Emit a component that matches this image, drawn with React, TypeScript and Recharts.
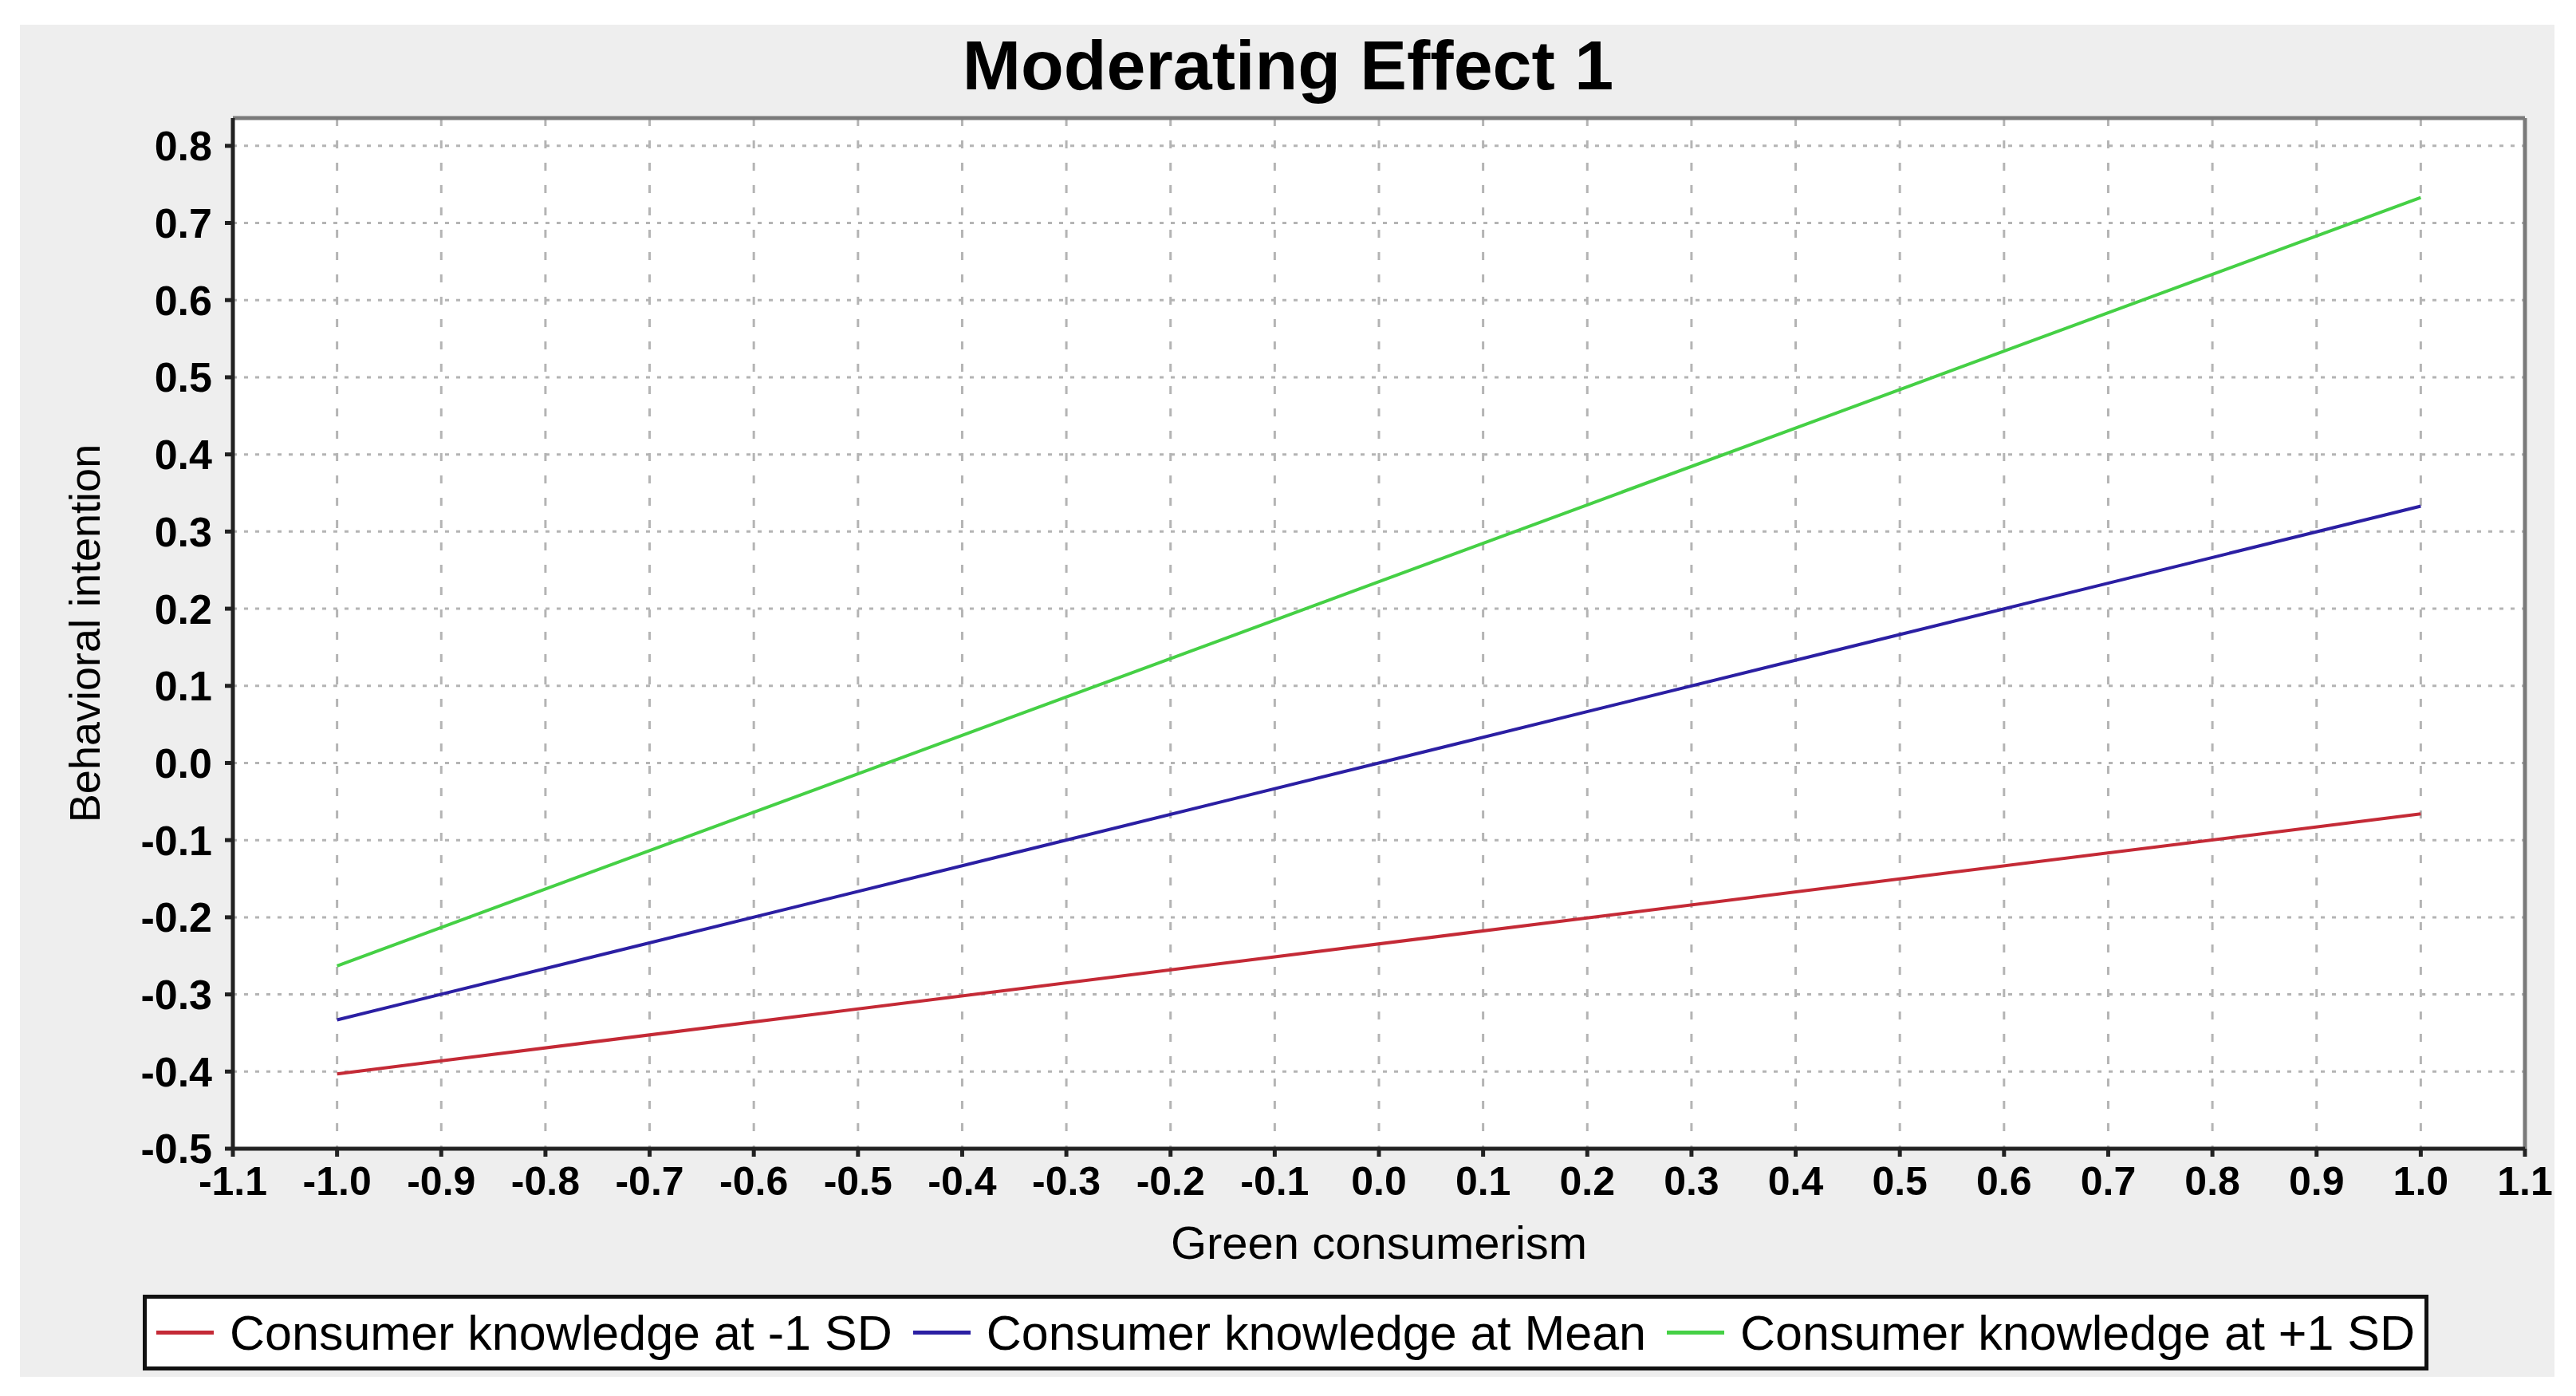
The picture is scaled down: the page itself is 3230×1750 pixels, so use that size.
import React from "react";
import { LineChart, Line, XAxis, YAxis, CartesianGrid, ReferenceLine } from "recharts";

// values
const xValues = [-1.0, 1.0];
const lowKnowledge = [-0.403, -0.066];
const meanKnowledge = [-0.333, 0.333];
const highKnowledge = [-0.263, 0.733];

const xTicks = [-1.1, -1.0, -0.9, -0.8, -0.7, -0.6, -0.5, -0.4, -0.3, -0.2, -0.1, 0.0, 0.1, 0.2, 0.3, 0.4, 0.5, 0.6, 0.7, 0.8, 0.9, 1.0, 1.1];
const yTicks = [-0.5, -0.4, -0.3, -0.2, -0.1, 0.0, 0.1, 0.2, 0.3, 0.4, 0.5, 0.6, 0.7, 0.8];

const seriesNames = [
  "Consumer knowledge at -1 SD",
  "Consumer knowledge at Mean",
  "Consumer knowledge at +1 SD",
];
const seriesKeys = ["low", "mean", "high"];
const seriesColors = ["#c42a36", "#2b1fa3", "#45d045"];

const data = xValues.map((x, i) => ({
  x,
  low: lowKnowledge[i],
  mean: meanKnowledge[i],
  high: highKnowledge[i],
}));

const FONT = "'Liberation Sans', Arial, Helvetica, sans-serif";
const Y_MAX = 0.836;

const fmt = (v: number) => (Math.abs(v) < 1e-9 ? "0.0" : v.toFixed(1));

export default function App() {
  return (
    <div
      style={{
        position: "absolute",
        left: 0,
        top: 0,
        width: 3230,
        height: 1750,
        background: "#fff",
        fontFamily: FONT,
      }}
    >
      {/* grey chart panel */}
      <div
        style={{
          position: "absolute",
          left: 25,
          top: 31,
          width: 3178,
          height: 1695,
          background: "#eeeeee",
        }}
      />
      <div
        style={{
          position: "absolute",
          left: 0,
          top: 30,
          width: 3230,
          textAlign: "center",
          fontSize: 88,
          fontWeight: "bold",
          lineHeight: "104px",
          color: "#000",
        }}
      >
        Moderating Effect 1
      </div>

      <div style={{ position: "absolute", left: 0, top: 0 }}>
        <LineChart
          width={3230}
          height={1750}
          data={data}
          margin={{ top: 148, right: 64, bottom: 210, left: 142 }}
        >
          <CartesianGrid
            fill="#ffffff"
            vertical={false}
            stroke="#b4b4b4"
            strokeWidth={3}
            strokeDasharray="5 9"
          />
          <CartesianGrid
            horizontal={false}
            stroke="#b4b4b4"
            strokeWidth={3}
            strokeDasharray="10 18"
          />
          <XAxis
            dataKey="x"
            type="number"
            domain={[-1.1, 1.1]}
            ticks={xTicks}
            allowDataOverflow
            tickFormatter={fmt}
            height={100}
            stroke="#222"
            strokeWidth={5}
            tickSize={10}
            tickMargin={12}
            tick={{ fontSize: 50, fontWeight: "bold", fill: "#000", fontFamily: FONT }}
            label={{
              value: "Green consumerism",
              position: "insideBottom",
              offset: -38,
              fontSize: 58,
              fill: "#000",
              fontFamily: FONT,
            }}
          />
          <YAxis
            type="number"
            domain={[-0.5, Y_MAX]}
            ticks={yTicks}
            allowDataOverflow
            tickFormatter={fmt}
            width={150}
            stroke="#222"
            strokeWidth={5}
            tickSize={10}
            tickMargin={16}
            tick={{ fontSize: 52, fontWeight: "bold", fill: "#000", fontFamily: FONT }}
            label={{
              value: "Behavioral intention",
              angle: -90,
              position: "insideLeft",
              offset: -36,
              style: { textAnchor: "middle" },
              fontSize: 54,
              fill: "#000",
              fontFamily: FONT,
            }}
          />
          <ReferenceLine y={Y_MAX} stroke="#7a7a7a" strokeWidth={5} />
          <ReferenceLine x={1.1} stroke="#7a7a7a" strokeWidth={5} />
          {seriesKeys.map((k, i) => (
            <Line
              key={k}
              dataKey={k}
              name={seriesNames[i]}
              type="linear"
              stroke={seriesColors[i]}
              strokeWidth={4}
              dot={false}
              activeDot={false}
              isAnimationActive={false}
            />
          ))}
        </LineChart>
      </div>

      {/* legend */}
      <div
        style={{
          position: "absolute",
          left: 179,
          top: 1623,
          width: 2866,
          height: 95,
          boxSizing: "border-box",
          border: "5px solid #111",
          background: "#fff",
          display: "flex",
          alignItems: "center",
          paddingLeft: 12,
        }}
      >
        {seriesNames.map((n, i) => (
          <div key={n} style={{ display: "flex", alignItems: "center", marginRight: 26 }}>
            <div style={{ width: 72, height: 5, background: seriesColors[i], marginRight: 20 }} />
            <span style={{ fontSize: 61, color: "#000", whiteSpace: "nowrap" }}>{n}</span>
          </div>
        ))}
      </div>
    </div>
  );
}
